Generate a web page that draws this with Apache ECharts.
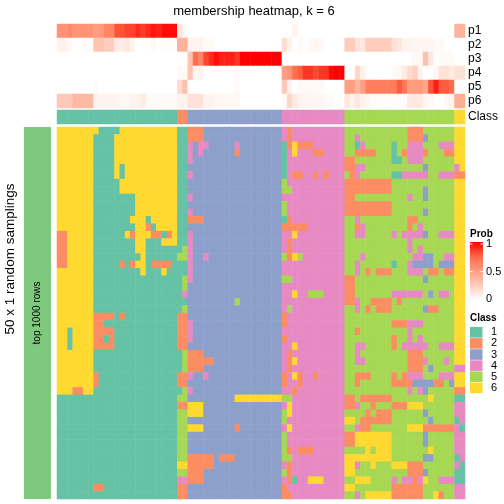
<!DOCTYPE html>
<html><head><meta charset="utf-8">
<script src="https://cdn.jsdelivr.net/npm/echarts@6/dist/echarts.min.js"></script>
<style>html,body{margin:0;padding:0;background:#fff}#c{width:504px;height:504px}</style>
</head><body><div id="c"></div>
<script>
const FONT = '"Liberation Sans", Arial, Helvetica, sans-serif';
const titleText = 'membership heatmap, k = 6';
const probNames = ['p1','p2','p3','p4','p5','p6'];
// membership probabilities per column (78 columns), groups: 23 | 2 | 18 | 12 | 21 | 2
const p1 = [0.55,0.55,0.6,0.55,0.55,0.55,0.55,0.5,0.52,0.62,0.62,0.8,0.8,0.84,0.84,0.9,0.85,0.9,0.95,0.92,0.97,0.97,0.97,
  0.12,0.04,
  0,0,0,0,0,0,0,0,0,0,0,0,0,0,0,0,0,0,
  0,0,0.06,0,0,0,0,0,0,0,0,0,
  0,0,0,0,0,0,0,0,0,0,0,0,0,0,0,0,0,0,0,0,0,
  0.38,0.38];
const p2 = [0.07,0.07,0.03,0,0,0.02,0.02,0.3,0.3,0.25,0.25,0.1,0.1,0.12,0.06,0,0,0,0.04,0,0.01,0.01,0.01,
  0.4,0.4,
  0.06,0.06,0.06,0.03,0.03,0,0,0,0,0,0,0,0,0,0,0,0,0,
  0.16,0.07,0,0.03,0,0.03,0.04,0.03,0,0,0,0,
  0.25,0.25,0.15,0.12,0.25,0.25,0.25,0.25,0.25,0.15,0.12,0.06,0.06,0.05,0.05,0.05,0.05,0.03,0.03,0,0,
  0,0];
const p3 = [0,0,0,0,0,0,0,0,0,0,0,0,0,0,0,0,0,0,0,0,0,0,0,
  0,0,
  0.3,0.72,0.62,0.83,0.9,0.97,0.92,0.92,0.92,0.87,1,1,1,1,1,1,1,1,
  0,0,0,0,0,0,0,0,0,0,0,0,
  0,0,0,0,0,0,0,0,0,0,0,0,0,0.04,0.04,0.33,0.12,0,0.03,0.03,0.03,
  0,0];
const p4 = [0,0,0,0,0,0,0,0,0,0,0,0,0,0,0,0,0,0,0,0,0,0,0,
  0.03,0.03,
  0.3,0.04,0.06,0,0,0,0,0,0,0.03,0,0,0,0,0,0,0,0,
  0.5,0.55,0.72,0.77,0.87,0.87,0.82,0.87,0.87,0.98,1,1,
  0,0,0.2,0.07,0,0,0,0,0,0.03,0.04,0.1,0.18,0.24,0.06,0,0,0.04,0.15,0.15,0.1,
  0.15,0.15];
const p5 = [0,0,0,0,0,0,0,0.03,0,0,0,0,0,0,0,0,0,0,0,0,0,0,0,
  0.18,0.32,
  0,0,0,0,0,0,0,0,0,0.03,0,0,0,0,0,0,0,0,
  0.28,0.07,0,0.03,0.03,0.03,0.03,0.03,0,0,0,0,
  0.5,0.5,0.38,0.5,0.65,0.65,0.65,0.65,0.65,0.65,0.78,0.68,0.5,0.52,0.52,0.45,0.8,0.93,0.78,0.78,0.72,
  0,0];
const p6 = [0.28,0.28,0.28,0.36,0.36,0.36,0.36,0.06,0.06,0.06,0.06,0.06,0.04,0.04,0.06,0.06,0.1,0.03,0.03,0.03,0.03,0.03,0.03,
  0.06,0.06,
  0.15,0.15,0.15,0.06,0.06,0.04,0.04,0.04,0.04,0.04,0,0,0,0,0,0,0,0,
  0.03,0.2,0.11,0.06,0.05,0.05,0.05,0.05,0.03,0.03,0,0,
  0.12,0.06,0.12,0.06,0.04,0.02,0.02,0.02,0.02,0.02,0.02,0.02,0.11,0.11,0.11,0.05,0.03,0,0,0.04,0.05,
  0.42,0.42];
const classAnno = "11111111111111111111111 22 333333333333333333 444444444444 555555555555555555555 66";
const classLabels = ['1','2','3','4','5','6'];
const classColors = ['#66C2A5','#FC8D62','#8DA0CB','#E78AC3','#A6D854','#FFD92F'];
const probTicks = ['1','0.5','0'];
const probColors = ['#FFFFFF','#FFCDBC','#FF9E81','#FF6846','#FF0000'];
const rowGroupLabel = 'top 1000 rows';
const rowTitle = '50 x 1 random samplings';
// class per sampling (50 rows) x column (78), groups: 7 | 16 | 2 | 18 | 12 | 21 | 2
const samplings = [
"6666666 6111166666666666 11 222333333333333333 424444444444 555555555555222555555 66",
"6666666 1111666666666666 11 222333333333333333 424444444444 554555555555222355555 66",
"6666666 1111666666666666 11 434433333433333333 126222444444 551455555155444555444 66",
"6666666 1111666666666666 11 434333333233333333 146444224444 552222555152444255522 66",
"6666666 1111666666666666 11 433333333333333333 144444444444 225555555115444555555 66",
"6666666 1111616666666666 11 333333333333333333 144444444444 224455555555555355555 46",
"6666666 1111616666666666 11 433333333333333333 142244242444 524555555114444455444 22",
"6666666 1111166666666666 11 333333333333333333 544444444444 222222222555555555555 66",
"6666666 1111166666666666 11 333333333333333333 554444444444 222222222555555355555 66",
"6666666 1111111166666666 11 433333333333333333 444444444444 225555555555455355555 66",
"6666666 1111111166666666 11 333333333333333333 544444444444 222222222555555555555 66",
"6666666 1111111166666666 11 433333333333333333 544444444444 222222222555555355555 66",
"6666666 1111111666166666 11 222333333333333333 124444444444 554555555555225555555 66",
"6666666 1111111166216666 11 333333333333333333 222224444444 552455555555254555555 66",
"2266666 1111116266622126 11 433333333333333333 446444444444 554455555454444355444 66",
"2266666 1111111166111666 11 433333333333333333 424444444444 555555555555455555555 66",
"2266666 1111111166111111 15 433333333333333333 424444444444 555555555555454555555 66",
"2266666 1111111116111111 55 433433333333333333 526544444444 555455555555544335544 66",
"2266666 1111121266122221 11 433333333333333333 444444444444 554555555155433335333 66",
"6666666 1111111116111611 11 433333333333333333 444444444444 554525222555444522522 66",
"6666666 1111111111111111 15 433333333333333333 554444444444 225555555555555355555 66",
"6666666 1111111111111111 15 333333333333333333 444444444444 225555555555555555555 66",
"6666666 1111111111111111 14 333333333333333333 446445554444 225555555444444535445 66",
"6666666 1111111111111111 11 333333333533333333 444444444444 224552222525555555555 66",
"6666666 1111111111111111 15 333333333333333333 454444444444 554525222555555322555 66",
"6666666 2222121111111111 22 333333333333333333 244444444444 555555555555555555555 66",
"6666666 2211111111111111 22 433333333333333333 244444444444 555555555222444555555 66",
"6616666 2222111111111111 22 433333333333333333 444444444444 552555555555455555555 66",
"6616666 2212111111111111 22 433333333333333333 244444444444 555555555255454555555 66",
"6616666 2222111111111111 22 333333333333333333 446444444444 554455555254444455444 66",
"6666666 1111111111111111 15 222333333333333333 424444444444 554555555555222555555 66",
"6666666 1111111111111111 15 222223333333333333 426444444444 554455555555222455545 66",
"6666666 1111111111111111 15 222333333333333333 424444444444 555555555555222535555 44",
"6666666 2111111111111111 22 433433333333333333 246244244444 552225555252444555444 66",
"6666666 2111111111111111 22 333333333333333333 244244444444 552555555222233332253 66",
"6662266 1111111111111111 15 433333333333333333 442444444444 555555555555454355555 22",
"1111111 1111111111111111 55 333333333666666666 554444444444 225222222555555565555 11",
"1111111 1111111111111111 22 666333333333333333 464444444444 224552555222666555555 44",
"1111111 1111111111111111 55 666333333333333333 564444444444 555525222555555355555 44",
"1111111 1111111111111111 55 333333333333333333 544444444444 665222222555555535555 14",
"1111111 1111111111111111 55 666333333233333333 464444444444 554225555555666222222 41",
"1111111 1111111111111111 55 333333333333333333 544444444444 226666666555555355555 44",
"1111111 1111111111111111 55 333333333333333333 544444444444 226666666555555355555 44",
"1111111 1111111111111111 55 333333333333333333 524222444444 555565666555555565555 44",
"1111111 1111111111111111 55 222223222333333333 554444444444 666666666555555335555 14",
"1111111 1111111111111111 66 222223333333333333 424444444444 664556555666222555555 41",
"1111111 1111111111111111 55 222333333333333333 524444444444 665555555555222355555 11",
"1111111 1111111111111111 44 222333333333333333 421446664444 556665555454424655444 11",
"1111111 2211111111111111 22 333333333333333333 244444444444 665555555222222555555 44",
"1111111 1111111111111111 22 333333333333333333 224444444444 554566666222222556255 44"
];

const NCOL = 78;
const cols = Array.from({length: NCOL}, (_, i) => String(i));
const rows = samplings.map((_, i) => String(i));
const probArrays = [p1, p2, p3, p4, p5, p6];
const probData = [];
probArrays.forEach((arr, r) => arr.forEach((v, c) => probData.push([c, r, v])));
const annoStr = classAnno.replace(/ /g, '');
const annoData = annoStr.split('').map((ch, c) => [c, 0, +ch]);
const mainData = [];
samplings.forEach((s, r) => {
  s.replace(/ /g, '').split('').forEach((ch, c) => mainData.push([c, r, +ch]));
});

const L = 57, W = 408;
const grids = [
  {left: L, top: 24, width: W, height: 84},
  {left: L, top: 110, width: W, height: 14},
  {left: L, top: 127, width: W, height: 372}
];
const hiddenX = i => ({type: 'category', gridIndex: i, data: cols, show: false});
const labelStyle = {color: '#000', fontSize: 12, fontFamily: FONT, margin: 3, interval: 0};

const graphics = [
  {type: 'text', x: 254, y: 11, style: {text: titleText, font: '13px ' + FONT, fill: '#000', textAlign: 'center', textVerticalAlign: 'middle'}},
  {type: 'rect', shape: {x: 24, y: 127, width: 27, height: 372}, style: {fill: '#7FC97F'}},
  {type: 'text', x: 37, y: 313, rotation: Math.PI / 2, style: {text: rowGroupLabel, font: '10px ' + FONT, fill: '#000', textAlign: 'center', textVerticalAlign: 'middle'}},
  {type: 'text', x: 10, y: 259, rotation: Math.PI / 2, style: {text: rowTitle, font: '13.5px ' + FONT, fill: '#000', textAlign: 'center', textVerticalAlign: 'middle'}},
  {type: 'text', x: 470, y: 234, style: {text: 'Prob', font: 'bold 10px ' + FONT, fill: '#000', textVerticalAlign: 'middle'}},
  {type: 'rect', shape: {x: 470, y: 242, width: 13, height: 58}, style: {fill: {type: 'linear', x: 0, y: 0, x2: 0, y2: 1, colorStops: [
    {offset: 0, color: probColors[4]}, {offset: 0.25, color: probColors[3]}, {offset: 0.5, color: probColors[2]}, {offset: 0.75, color: probColors[1]}, {offset: 1, color: probColors[0]}]}}},
  {type: 'text', x: 470, y: 318, style: {text: 'Class', font: 'bold 10px ' + FONT, fill: '#000', textVerticalAlign: 'middle'}}
];
probTicks.forEach((t, i) => {
  const y = 244 + i * 27.5;
  graphics.push({type: 'text', x: 486, y: y, style: {text: t, font: '11px ' + FONT, fill: '#000', textVerticalAlign: 'middle'}});
  graphics.push({type: 'line', shape: {x1: 470, y1: y, x2: 472.5, y2: y}, style: {stroke: '#fff', lineWidth: 1}});
  graphics.push({type: 'line', shape: {x1: 480.5, y1: y, x2: 483, y2: y}, style: {stroke: '#fff', lineWidth: 1}});
});
classLabels.forEach((t, i) => {
  const y = 327 + i * 11.1;
  graphics.push({type: 'rect', shape: {x: 470, y: y, width: 12.5, height: 10.6}, style: {fill: classColors[i]}});
  graphics.push({type: 'text', x: 491, y: y + 5.3, style: {text: t, font: '11px ' + FONT, fill: '#000', textVerticalAlign: 'middle'}});
});

const chart = echarts.init(document.getElementById('c'), null, {renderer: 'canvas'});
chart.setOption({
  animation: false,
  backgroundColor: '#fff',
  grid: grids,
  xAxis: [hiddenX(0), hiddenX(1), hiddenX(2)],
  yAxis: [
    {type: 'category', gridIndex: 0, data: probNames, inverse: true, position: 'right',
     axisLine: {show: false}, axisTick: {show: false}, axisLabel: labelStyle},
    {type: 'category', gridIndex: 1, data: ['Class'], position: 'right',
     axisLine: {show: false}, axisTick: {show: false}, axisLabel: labelStyle},
    {type: 'category', gridIndex: 2, data: rows, inverse: true, show: false}
  ],
  visualMap: [
    {type: 'continuous', seriesIndex: 0, min: 0, max: 1, show: false, inRange: {color: probColors}},
    {type: 'piecewise', seriesIndex: [1, 2], show: false,
     pieces: classLabels.map((l, i) => ({value: i + 1, color: classColors[i]}))}
  ],
  series: [
    {type: 'heatmap', xAxisIndex: 0, yAxisIndex: 0, data: probData, silent: true, emphasis: {disabled: true}},
    {type: 'heatmap', xAxisIndex: 1, yAxisIndex: 1, data: annoData, silent: true, emphasis: {disabled: true}},
    {type: 'heatmap', xAxisIndex: 2, yAxisIndex: 2, data: mainData, silent: true, emphasis: {disabled: true}}
  ],
  graphic: graphics
});
</script>
</body></html>
